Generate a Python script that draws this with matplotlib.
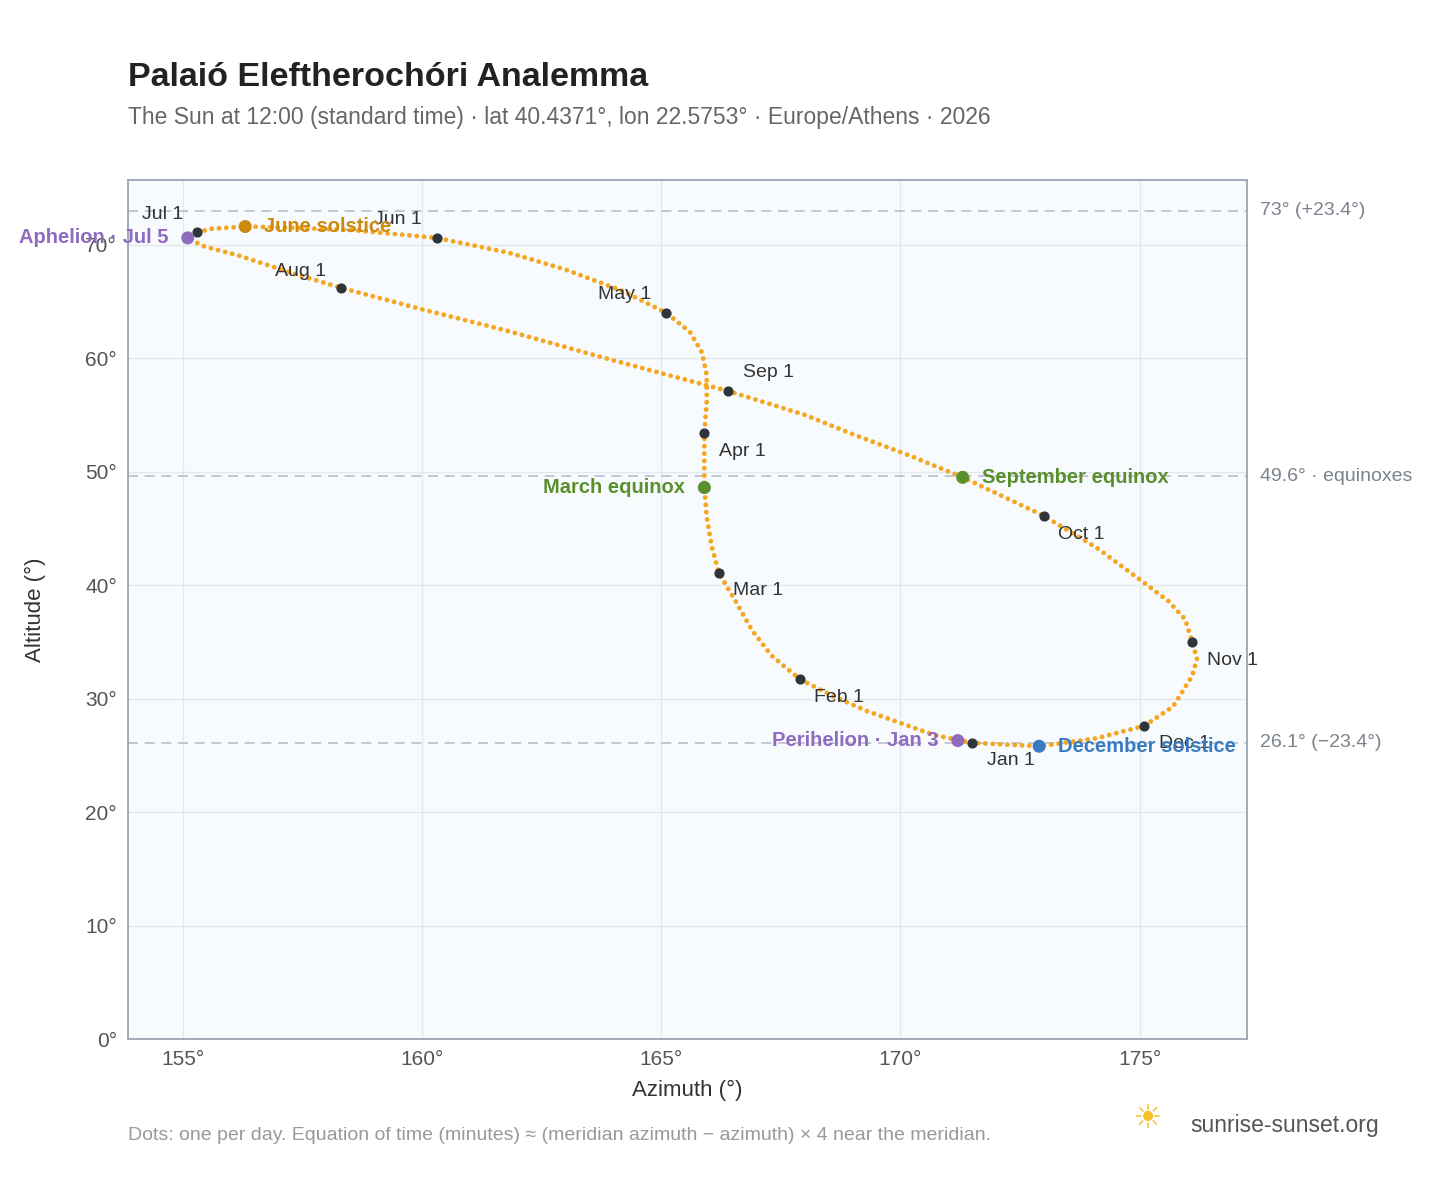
import matplotlib
matplotlib.use("Agg")
import matplotlib.pyplot as plt

plt.rcParams["font.family"] = ["Liberation Sans", "DejaVu Sans"]

# sun position at 12:00 (azimuth deg, altitude deg)
path_az = [171.5, 170.7, 169.9, 169.3, 168.6, 167.9, 167.3, 166.9, 166.55, 166.2, 166.05, 165.95, 165.9,
           165.9, 165.9, 165.95, 165.95, 165.85, 165.6, 165.1, 164.2, 163.0, 161.8, 160.3, 158.5,
           157.2, 156.3, 155.6, 155.3, 155.1, 155.4, 156.2, 157.2, 158.3, 160.0,
           161.7, 164.0, 166.4, 168.0, 169.0, 170.2, 171.3, 173.0, 174.1, 175.0,
           175.6, 175.95, 176.1, 176.2, 176.1, 175.7, 175.1, 174.1, 172.9, 171.5]
path_alt = [26.1, 26.8, 28.0, 28.9, 30.2, 31.7, 33.8, 36.0, 38.6, 41.1, 43.5, 46.0, 48.6,
            51.0, 53.4, 56.2, 58.5, 60.5, 62.3, 64.0, 65.9, 67.8, 69.3, 70.6, 71.3,
            71.5, 71.6, 71.4, 71.1, 70.6, 69.9, 69.0, 67.6, 66.2, 64.3,
            62.5, 59.8, 57.1, 55.0, 53.3, 51.4, 49.5, 46.1, 43.3, 40.5,
            38.6, 37.0, 35.0, 33.5, 32.0, 29.3, 27.6, 26.5, 25.8, 26.1]

month_names = ["Jan 1", "Feb 1", "Mar 1", "Apr 1", "May 1", "Jun 1",
               "Jul 1", "Aug 1", "Sep 1", "Oct 1", "Nov 1", "Dec 1"]
month_az = [171.5, 167.9, 166.2, 165.9, 165.1, 160.3, 155.3, 158.3, 166.4, 173.0, 176.1, 175.1]
month_alt = [26.1, 31.7, 41.1, 53.4, 64.0, 70.6, 71.1, 66.2, 57.1, 46.1, 35.0, 27.6]
month_off = [(0.3, -1.6), (0.3, -1.6), (0.3, -1.6), (0.3, -1.6), (-0.3, 1.6), (-0.3, 1.6),
             (-0.3, 1.6), (-0.3, 1.4), (0.3, 1.6), (0.3, -1.6), (0.3, -1.6), (0.3, -1.6)]

events = ["Perihelion · Jan 3", "March equinox", "June solstice", "Aphelion · Jul 5",
          "September equinox", "December solstice"]
event_az = [171.2, 165.9, 156.3, 155.1, 171.3, 172.9]
event_alt = [26.3, 48.6, 71.6, 70.6, 49.5, 25.8]
event_col = ["#8e6bbf", "#5a8f2e", "#cc8a0c", "#8e6bbf", "#5a8f2e", "#3a7bc0"]
event_side = ["left", "left", "right", "left", "right", "right"]

ref_alt = [73.0, 49.6, 26.1]
ref_lab = ["73° (+23.4°)", "49.6° · equinoxes", "26.1° (−23.4°)"]

fig = plt.figure(figsize=(14.48, 11.88), dpi=100)
ax = fig.add_axes([0.0884, 0.1254, 0.7726, 0.7231])
ax.set_facecolor("#f8fbfe")
ax.set_xlim(153.85, 177.24)
ax.set_ylim(0, 75.7)
ax.grid(color="#e3e8ee", lw=1)
ax.set_axisbelow(True)
for s in ax.spines.values():
    s.set_color("#9aa5b1")
    s.set_linewidth(1.3)
ax.tick_params(length=0, labelsize=15, colors="#555", pad=8)
ax.set_xticks([155, 160, 165, 170, 175])
ax.set_xticklabels([f"{v}°" for v in [155, 160, 165, 170, 175]])
ax.set_yticks(range(0, 71, 10))
ax.set_yticklabels([f"{v}°" for v in range(0, 71, 10)])
ax.set_xlabel("Azimuth (°)", fontsize=16, color="#333", labelpad=8)
ax.set_ylabel("Altitude (°)", fontsize=16, color="#333", labelpad=28)

for a, lab in zip(ref_alt, ref_lab):
    ax.axhline(a, color="#b8c0cc", lw=1.2, ls=(0, (6, 4)), zorder=1)
    ax.text(1.012, a, lab, transform=ax.get_yaxis_transform(), va="center",
            fontsize=14, color="#7a828c")

ax.plot(path_az, path_alt, color="#f5a623", lw=3.5, ls=(0, (0.01, 1.5)),
        dash_capstyle="round", zorder=2)

ax.scatter(month_az, month_alt, s=40, color="#2f343b", zorder=4)
for n, x, y, (dx, dy) in zip(month_names, month_az, month_alt, month_off):
    ax.text(x + dx, y + dy, n, fontsize=14, color="#333",
            ha="left" if dx > 0 else "right", va="center", zorder=5)

ax.scatter(event_az, event_alt, s=70, color=event_col, zorder=5)
for n, x, y, c, side in zip(events, event_az, event_alt, event_col, event_side):
    dx = 0.4 if side == "right" else -0.4
    ax.text(x + dx, y, n, fontsize=14.5, color=c, weight="bold",
            ha="left" if side == "right" else "right", va="center", zorder=6,
            clip_on=False)

fig.text(0.0884, 0.928, "Palaió Eleftherochóri Analemma", fontsize=24.5,
         weight="bold", color="#222")
fig.text(0.0884, 0.896, "The Sun at 12:00 (standard time) · lat 40.4371°, lon 22.5753° · "
         "Europe/Athens · 2026", fontsize=16.5, color="#666")
fig.text(0.0884, 0.040, "Dots: one per day. Equation of time (minutes) ≈ (meridian azimuth − "
         "azimuth) × 4 near the meridian.", fontsize=14, color="#999")
fig.text(0.822, 0.053, "sunrise-sunset.org", fontsize=16.5, color="#555", va="center")
fig.text(0.792, 0.057, "☀", fontsize=24, color="#f5c023", ha="center", va="center")

fig.savefig("out.png", dpi=100)
